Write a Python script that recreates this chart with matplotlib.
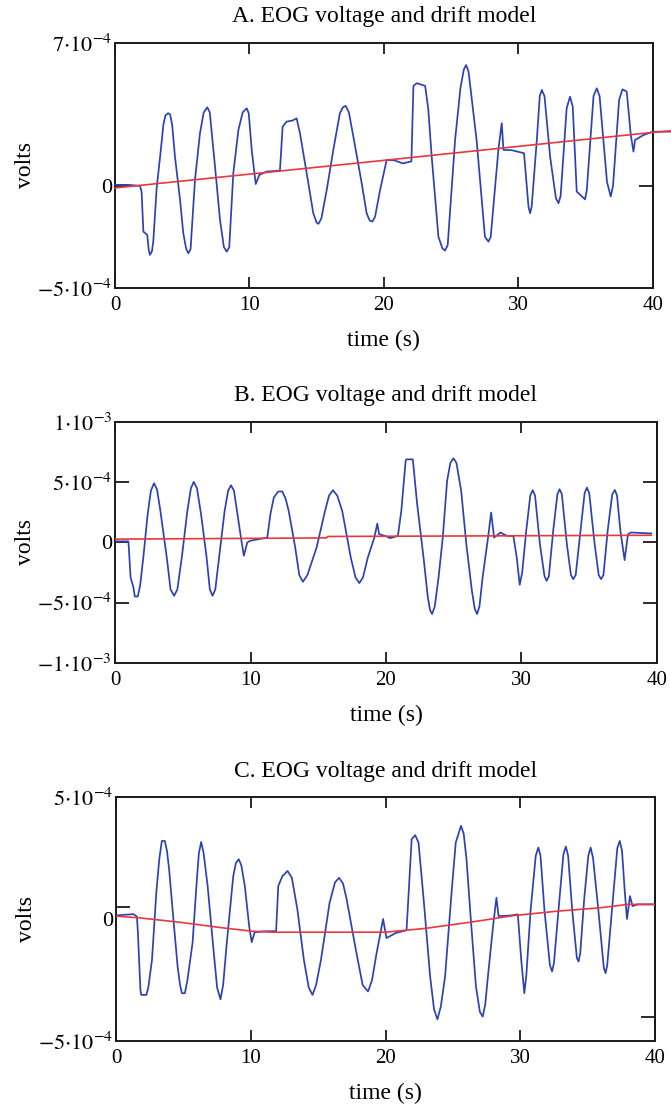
import numpy as np
import matplotlib.pyplot as plt

# serif text like the original Mathcad export
plt.rcParams['font.family'] = 'Liberation Serif'
plt.rcParams['mathtext.fontset'] = 'stix'

# signal values are (time s, volts in units of 1e-4 V)
unit = 1e-4

# panel A: EOG voltage and drift model
a_points = [(0.0, 0.05), (1.0, 0.05), (1.86, 0.0), (1.98, -0.3), (2.11, -2.24), (2.4, -2.4),
            (2.5, -3.1), (2.6, -3.38), (2.75, -3.2), (2.85, -2.7), (3.1, -0.1), (3.35, 1.4),
            (3.6, 3.0), (3.75, 3.45), (3.95, 3.56), (4.1, 3.5), (4.25, 3.0), (4.46, 1.43),
            (4.84, -0.69), (5.08, -2.32), (5.3, -3.1), (5.46, -3.3), (5.62, -3.1), (5.95, 0.29),
            (6.32, 2.58), (6.6, 3.6), (6.87, 3.85), (7.05, 3.6), (7.44, 0.95), (7.81, -1.66),
            (8.1, -3.0), (8.31, -3.22), (8.5, -3.0), (8.8, 0.62), (9.18, 2.74), (9.5, 3.6),
            (9.8, 3.8), (9.95, 3.55), (10.17, 1.76), (10.47, 0.09), (10.74, 0.54), (11.28, 0.7),
            (12.27, 0.75), (12.47, 2.9), (12.77, 3.15), (13.2, 3.2), (13.51, 3.31), (13.76, 2.58),
            (14.26, 0.62), (14.75, -1.34), (15.0, -1.8), (15.13, -1.86), (15.35, -1.6),
            (15.75, -0.2), (16.24, 1.76), (16.73, 3.56), (16.95, 3.85), (17.16, 3.92), (17.4, 3.6),
            (17.73, 2.42), (18.35, 0.14), (18.72, -1.34), (18.95, -1.7), (19.15, -1.75),
            (19.35, -1.5), (19.72, -0.2), (20.21, 1.27), (20.8, 1.25), (21.4, 1.1), (22.05, 1.2),
            (22.2, 4.9), (22.45, 5.03), (23.07, 4.9), (23.3, 3.8), (23.56, 1.43), (24.06, -2.49),
            (24.35, -3.05), (24.55, -3.17), (24.75, -2.9), (25.3, 2.25), (25.7, 4.8), (25.95, 5.7),
            (26.12, 5.92), (26.3, 5.6), (26.9, 2.25), (27.52, -2.49), (27.78, -2.73), (27.95, -2.5),
            (28.52, 1.76), (28.77, 3.07), (28.9, 1.76), (29.5, 1.75), (30.43, 1.6), (30.76, -1.02),
            (30.88, -1.34), (31.0, -1.0), (31.38, 2.25), (31.6, 4.4), (31.75, 4.7), (31.95, 4.4),
            (32.37, 1.43), (32.8, -0.6), (32.99, -0.85), (33.15, -0.5), (33.6, 3.8), (33.85, 4.37),
            (34.05, 3.9), (34.35, -0.28), (34.97, -0.66), (35.1, -0.2), (35.6, 4.4), (35.84, 4.78),
            (36.05, 4.4), (36.6, 0.2), (36.88, -0.52), (37.05, 0.0), (37.5, 4.2), (37.75, 4.73),
            (38.07, 4.62), (38.37, 2.5), (38.57, 1.68), (38.69, 2.25), (39.31, 2.49), (40.0, 2.65),
            (41.4, 2.66)]
a_drift = [(0.0, -0.1), (20.0, 1.25), (40.0, 2.62), (41.4, 2.7)]

# panel B
b_points = [(0.0, 0.1), (0.99, 0.1), (1.15, -2.9), (1.36, -3.73), (1.46, -4.48), (1.68, -4.48),
            (1.85, -3.6), (2.09, -1.24), (2.41, 2.35), (2.65, 4.3), (2.88, 4.92), (3.1, 4.4),
            (3.35, 2.62), (3.82, -1.24), (4.1, -3.9), (4.36, -4.42), (4.6, -3.9), (4.93, -1.24),
            (5.34, 2.62), (5.6, 4.5), (5.81, 5.03), (6.05, 4.5), (6.35, 2.35), (6.76, -1.24),
            (7.0, -3.9), (7.2, -4.42), (7.4, -3.9), (7.68, -1.24), (8.09, 2.62), (8.35, 4.3),
            (8.56, 4.75), (8.78, 4.3), (9.04, 2.35), (9.35, 0.0), (9.51, -1.1), (9.76, 0.0),
            (9.98, 0.14), (10.61, 0.28), (11.24, 0.41), (11.47, 2.35), (11.72, 3.73), (12.04, 4.23),
            (12.35, 4.23), (12.6, 3.6), (12.82, 2.62), (13.3, -0.41), (13.6, -2.7), (13.87, -3.26),
            (14.2, -2.7), (14.88, -0.41), (15.5, 2.62), (15.8, 3.9), (16.08, 4.34), (16.4, 3.9),
            (16.77, 2.62), (17.4, -1.24), (17.75, -2.9), (18.03, -3.37), (18.3, -2.9),
            (18.66, -1.24), (19.14, 0.41), (19.36, 1.57), (19.49, 0.69), (19.93, 0.55),
            (20.31, 0.36), (20.88, 0.55), (21.13, 2.62), (21.45, 6.77), (21.5, 6.9), (21.98, 6.9),
            (22.3, 3.18), (22.77, -1.24), (23.09, -4.56), (23.25, -5.6), (23.4, -5.94),
            (23.6, -5.3), (23.88, -2.9), (24.19, 0.41), (24.51, 5.11), (24.75, 6.6), (24.98, 6.99),
            (25.2, 6.6), (25.55, 4.28), (25.93, -0.14), (26.34, -4.0), (26.55, -5.5),
            (26.72, -5.94), (26.9, -5.3), (27.13, -2.9), (27.5, 0.14), (27.76, 2.49), (27.98, 0.41),
            (28.45, 0.83), (28.93, 0.55), (29.4, 0.55), (29.65, -1.24), (29.87, -3.51),
            (30.05, -2.5), (30.35, 0.97), (30.65, 3.9), (30.83, 4.34), (31.0, 3.9), (31.36, -0.14),
            (31.7, -2.8), (31.86, -3.18), (32.02, -2.8), (32.34, 0.97), (32.65, 4.0), (32.81, 4.42),
            (32.98, 4.0), (33.35, -0.14), (33.65, -2.7), (33.82, -3.04), (34.0, -2.7), (34.36, 0.97),
            (34.66, 4.1), (34.83, 4.56), (35.0, 4.1), (35.4, -0.14), (35.7, -2.7), (35.87, -3.04),
            (36.05, -2.7), (36.36, 0.97), (36.7, 4.0), (36.89, 4.36), (37.05, 3.9), (37.3, 0.97),
            (37.61, -1.46), (37.86, 0.69), (38.08, 0.83), (39.57, 0.75)]
b_drift = [(0.0, 0.28), (15.6, 0.38), (15.7, 0.5), (39.57, 0.6)]

# panel C
c_points = [(0.0, 0.15), (1.3, 0.2), (1.55, 0.1), (1.62, -0.5), (1.81, -2.9), (1.87, -3.11),
            (2.25, -3.11), (2.4, -2.8), (2.67, -1.67), (2.99, 1.08), (3.21, 2.45), (3.4, 3.2),
            (3.62, 3.2), (3.78, 2.8), (3.94, 2.04), (4.26, -0.02), (4.57, -1.94), (4.75, -2.7),
            (4.89, -3.04), (5.11, -3.04), (5.3, -2.5), (5.68, -0.98), (6.0, 1.63), (6.15, 2.7),
            (6.32, 3.16), (6.5, 2.7), (6.8, 1.35), (7.21, -1.12), (7.5, -2.8), (7.75, -3.29),
            (7.95, -2.7), (8.22, -0.98), (8.7, 1.76), (8.9, 2.3), (9.11, 2.45), (9.3, 2.2),
            (9.56, 1.35), (9.88, -0.29), (10.07, -0.95), (10.29, -0.54), (11.08, -0.5),
            (11.88, -0.5), (12.04, 1.35), (12.35, 1.76), (12.73, 1.97), (13.05, 1.69), (13.46, 0.39),
            (13.94, -1.67), (14.3, -2.8), (14.58, -3.11), (14.85, -2.7), (15.21, -1.67),
            (15.85, 0.67), (16.25, 1.5), (16.55, 1.69), (16.85, 1.45), (17.12, 0.8), (17.75, -1.12),
            (18.3, -2.7), (18.7, -2.97), (19.0, -2.5), (19.34, -1.39), (19.82, 0.0), (20.07, -0.78),
            (20.77, -0.57), (21.56, -0.46), (21.72, 1.08), (21.94, 3.27), (22.2, 3.44),
            (22.45, 3.13), (22.83, 0.8), (23.31, -2.35), (23.6, -3.7), (23.85, -4.11), (24.1, -3.6),
            (24.42, -2.35), (24.9, 1.08), (25.21, 3.13), (25.6, 3.82), (25.8, 3.5), (26.01, 2.45),
            (26.33, -0.02), (26.71, -2.76), (27.0, -3.8), (27.21, -4.0), (27.4, -3.5),
            (27.6, -2.35), (27.98, -0.29), (28.23, 0.87), (28.39, 0.12), (29.18, 0.14),
            (29.82, 0.19), (30.07, -1.67), (30.3, -3.04), (30.45, -2.3), (30.77, 0.39),
            (31.15, 2.6), (31.34, 2.93), (31.5, 2.6), (31.79, 0.39), (32.2, -1.9), (32.36, -2.15),
            (32.5, -1.8), (32.84, 0.39), (33.2, 2.65), (33.38, 2.97), (33.55, 2.6), (33.85, 0.39),
            (34.2, -1.6), (34.33, -1.74), (34.45, -1.4), (34.74, 0.8), (35.05, 2.6), (35.22, 2.93),
            (35.4, 2.5), (35.79, 0.39), (36.2, -2.0), (36.33, -2.22), (36.45, -1.9), (36.81, 0.39),
            (37.2, 2.9), (37.38, 3.2), (37.55, 2.8), (37.76, 1.08), (37.92, 0.0), (38.14, 0.94),
            (38.33, 0.53), (38.71, 0.6), (39.98, 0.6)]
c_drift = [(0.0, 0.12), (1.7, 0.05), (4.7, -0.13), (7.9, -0.36), (10.1, -0.5), (11.7, -0.54),
           (20.0, -0.54), (23.0, -0.38), (26.3, -0.13), (29.5, 0.14), (32.7, 0.32), (35.9, 0.46),
           (38.0, 0.6), (40.0, 0.6)]

titles = ['A. EOG voltage and drift model', 'B. EOG voltage and drift model',
          'C. EOG voltage and drift model']
ylims = [(-5e-4, 7e-4), (-1e-3, 1e-3), (-5e-4, 5e-4)]
ytick_vals = [[7e-4, 0, -5e-4], [1e-3, 5e-4, 0, -5e-4, -1e-3], [5e-4, 0, -5e-4]]
ytick_text = [[r'$7{\cdot}10^{-4}$', '0', r'$-5{\cdot}10^{-4}$'],
              [r'$1{\cdot}10^{-3}$', r'$5{\cdot}10^{-4}$', '0', r'$-5{\cdot}10^{-4}$',
               r'$-1{\cdot}10^{-3}$'],
              [r'$5{\cdot}10^{-4}$', '0', r'$-5{\cdot}10^{-4}$']]
# tick marks on the left / right side (Mathcad placed them oddly in C)
left_marks = [[0], [5e-4, 0, -5e-4], [0.5e-4]]
right_marks = [[0], [5e-4, 0, -5e-4], [-4e-4]]

signals = [(a_points, a_drift), (b_points, b_drift), (c_points, c_drift)]

# axes boxes in figure fractions [left, bottom, width, height]
boxes = [[0.1714, 0.7394, 0.8013, 0.2217],
         [0.1714, 0.4000, 0.8077, 0.2181],
         [0.1729, 0.0579, 0.8033, 0.2208]]
# panel A's traces run past the right edge of the box
no_clip = [True, False, False]

blue = '#2d42b2'
red = '#e8383d'

fig = plt.figure(figsize=(6.71, 11.05), dpi=100)

for i in range(3):
    ax = fig.add_axes(boxes[i])
    pts, drift = signals[i]
    t, v = np.array(pts).T
    dt, dv = np.array(drift).T
    ax.plot(t, v * unit, color=blue, lw=1.25, clip_on=not no_clip[i], zorder=3)
    ax.plot(dt, dv * unit, color=red, lw=1.2, clip_on=not no_clip[i], zorder=4)

    ax.set_xlim(0, 40)
    ax.set_ylim(*ylims[i])

    for sp in ax.spines.values():
        sp.set_linewidth(1.4)
        sp.set_color('#1a1a1a')

    # x ticks: inward on both top and bottom
    ax.set_xticks([0, 10, 20, 30, 40])
    ax.tick_params(axis='x', direction='in', length=8, width=1.3, top=True,
                   labelsize=15, pad=6, color='#1a1a1a')

    # y labels without marks, marks drawn separately
    ax.yaxis.remove_overlapping_locs = False
    ax.set_yticks(ytick_vals[i], ytick_text[i])
    ax.tick_params(axis='y', which='major', length=0, pad=2, labelsize=16)
    ax.set_yticks(left_marks[i], minor=True)
    ax.tick_params(axis='y', which='minor', direction='in', length=10, width=1.3,
                   left=True, right=False, color='#1a1a1a')
    rax = ax.secondary_yaxis('right')
    rax.set_yticks(right_marks[i])
    rax.tick_params(direction='in', length=10, width=1.3, labelright=False, color='#1a1a1a')
    rax.spines['right'].set_linewidth(1.4)

    ax.text(0.5, 1 + 26 / (boxes[i][3] * 1105), titles[i], transform=ax.transAxes,
            ha='center', va='center', fontsize=17)
    ax.set_xlabel('time (s)', fontsize=17, va='center')
    ax.xaxis.set_label_coords(0.5, -52 / (boxes[i][3] * 1105))
    ax.set_ylabel('volts', fontsize=17, va='center')
    ax.yaxis.set_label_coords(-90 / (boxes[i][2] * 671), 0.5)

fig.savefig('out.png', dpi=100)
